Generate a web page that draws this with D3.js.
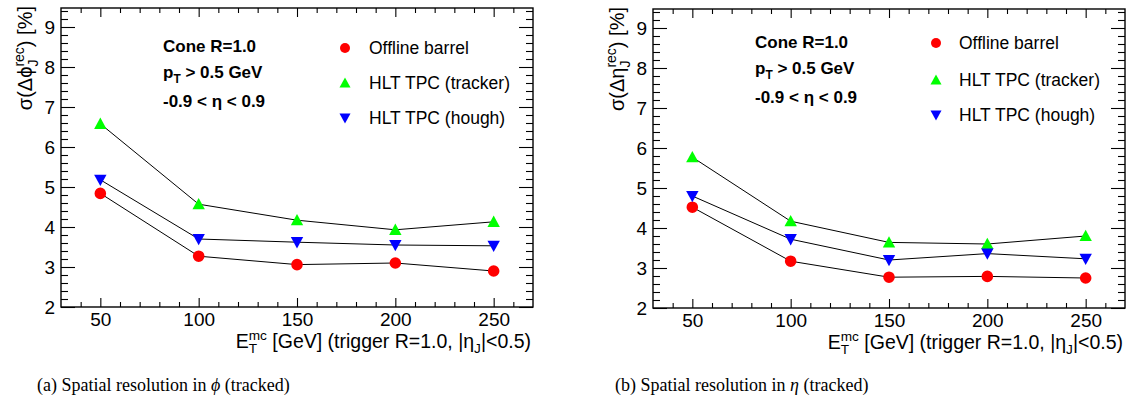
<!DOCTYPE html>
<html>
<head>
<meta charset="utf-8">
<script src="https://cdn.jsdelivr.net/npm/d3@7"></script>
<style>
  html, body { margin: 0; padding: 0; background: #fff; }
  svg { display: block; }
  text { font-family: "Liberation Sans", Arial, Helvetica, sans-serif; fill: #000; }
</style>
</head>
<body>
<svg id="chart" width="1130" height="410"></svg>
<script>
// ---------------- data ----------------
const energies = [50, 100, 150, 200, 250];
const xMajorTicks = [50, 100, 150, 200, 250];
const yMajorTicks = [2, 3, 4, 5, 6, 7, 8, 9];

const phiOffline = [4.84, 3.27, 3.06, 3.10, 2.90];
const phiTracker = [6.58, 4.57, 4.17, 3.93, 4.13];
const phiHough   = [5.18, 3.70, 3.62, 3.55, 3.53];

const etaOffline = [4.52, 3.17, 2.77, 2.79, 2.75];
const etaTracker = [5.77, 4.17, 3.64, 3.60, 3.80];
const etaHough   = [4.80, 3.72, 3.20, 3.36, 3.23];

const seriesNames = ["Offline barrel", "HLT TPC (tracker)", "HLT TPC (hough)"];
const seriesColors = ["#ff0000", "#00ff00", "#0000ff"];
const seriesMarkers = ["circle", "up", "down"];
const infoLines = ["Cone R=1.0", "pT > 0.5 GeV", "-0.9 < η < 0.9"];
const captions = ["(a) Spatial resolution in ", "(b) Spatial resolution in "];
const captionSymbols = ["ϕ", "η"];

// ---------------- layout ----------------
const svg = d3.select("#chart");
svg.append("rect").attr("width", 1130).attr("height", 410).attr("fill", "#fff");

const panels = [
  { x0: 61, x1: 533, yb: 307, yt: 8, series: [phiOffline, phiTracker, phiHough],
    ySym: "ϕ", infoX: 163, infoY: [52, 78, 107], legX: 345, legTX: 369, legY: [48, 83, 118],
    capX: 37 },
  { x0: 653, x1: 1125, yb: 308, yt: 9, series: [etaOffline, etaTracker, etaHough],
    ySym: "η", infoX: 755, infoY: [48, 74, 103], legX: 936, legTX: 959, legY: [43, 80, 115],
    capX: 615 }
];

function markerPath(type, r) {
  if (type === "up") return `M0,${-r} L${r},${r * 0.82} L${-r},${r * 0.82} Z`;
  if (type === "down") return `M0,${r} L${r},${-r * 0.82} L${-r},${-r * 0.82} Z`;
  return d3.symbol(d3.symbolCircle, Math.PI * r * r)();
}

// rich text: segments {t} plain, {sub, sup} stacked, {sub} only
function rich(textSel, segs, fs) {
  const s = fs * 0.7;
  let pend = 0, pdx = 0;
  segs.forEach(seg => {
    if (seg.t != null) {
      const ts = textSel.append("tspan").text(seg.t);
      if (pend) ts.attr("dy", pend);
      if (pdx) ts.attr("dx", pdx);
      pend = 0; pdx = 0;
    } else if (seg.sup != null) {
      const up = textSel.append("tspan").attr("font-size", s).attr("dy", -fs * 0.42 + pend).text(seg.sup);
      if (pdx) up.attr("dx", pdx);
      const wUp = up.node().getComputedTextLength();
      const dn = textSel.append("tspan").attr("font-size", s).attr("dx", -wUp).attr("dy", fs * 0.42 + fs * 0.28).text(seg.sub);
      const wDn = dn.node().getComputedTextLength();
      pend = -fs * 0.28; pdx = Math.max(0, wUp - wDn);
    } else {
      const dn = textSel.append("tspan").attr("font-size", s).attr("dy", fs * 0.28 + pend).text(seg.sub);
      if (pdx) dn.attr("dx", pdx);
      pend = -fs * 0.28; pdx = 0;
    }
  });
}

panels.forEach((p, pi) => {
  const x = d3.scaleLinear().domain([30, 270]).range([p.x0, p.x1]);
  const y = d3.scaleLinear().domain([2, 9]).range([p.yb, p.yb - 280]);
  const yTopVal = y.invert(p.yt);
  const g = svg.append("g");

  const xMinor = d3.range(40, 270, 10).filter(v => v % 50 !== 0);
  const yMinor = d3.range(2.2, yTopVal, 0.2).map(v => +v.toFixed(1)).filter(v => Math.abs(v - Math.round(v)) > 1e-6);

  const axStyle = sel => {
    sel.select(".domain").remove();
    sel.selectAll("line").attr("stroke", "#000").attr("stroke-width", 1.1);
    sel.selectAll("text").attr("font-size", 19).attr("font-family", '"Liberation Sans", Arial, sans-serif');
  };

  // bottom
  g.append("g").attr("transform", `translate(0,${p.yb})`)
    .call(d3.axisBottom(x).tickValues(xMajorTicks).tickSize(-9).tickPadding(6).tickFormat(d3.format("d"))).call(axStyle);
  g.append("g").attr("transform", `translate(0,${p.yb})`)
    .call(d3.axisBottom(x).tickValues(xMinor).tickSize(-5).tickFormat("")).call(axStyle);
  // top
  g.append("g").attr("transform", `translate(0,${p.yt})`)
    .call(d3.axisTop(x).tickValues(xMajorTicks).tickSize(-9).tickFormat("")).call(axStyle);
  g.append("g").attr("transform", `translate(0,${p.yt})`)
    .call(d3.axisTop(x).tickValues(xMinor).tickSize(-5).tickFormat("")).call(axStyle);
  // left
  g.append("g").attr("transform", `translate(${p.x0},0)`)
    .call(d3.axisLeft(y).tickValues(yMajorTicks).tickSize(-14).tickPadding(6).tickFormat(d3.format("d"))).call(axStyle);
  g.append("g").attr("transform", `translate(${p.x0},0)`)
    .call(d3.axisLeft(y).tickValues(yMinor).tickSize(-7).tickFormat("")).call(axStyle);
  // right
  g.append("g").attr("transform", `translate(${p.x1},0)`)
    .call(d3.axisRight(y).tickValues(yMajorTicks).tickSize(-14).tickFormat("")).call(axStyle);
  g.append("g").attr("transform", `translate(${p.x1},0)`)
    .call(d3.axisRight(y).tickValues(yMinor).tickSize(-7).tickFormat("")).call(axStyle);

  // frame
  g.append("rect").attr("x", p.x0).attr("y", p.yt).attr("width", p.x1 - p.x0).attr("height", p.yb - p.yt)
    .attr("fill", "none").attr("stroke", "#000").attr("stroke-width", 1.4);

  // series lines and markers
  const line = d3.line().x((d, i) => x(energies[i])).y(d => y(d));
  p.series.forEach((vals) => {
    g.append("path").attr("d", line(vals)).attr("fill", "none").attr("stroke", "#000").attr("stroke-width", 1);
  });
  p.series.forEach((vals, si) => {
    g.selectAll(null).data(vals).enter().append("path")
      .attr("transform", (d, i) => `translate(${x(energies[i])},${y(d)})`)
      .attr("d", markerPath(seriesMarkers[si], si === 0 ? 5.8 : 6.2))
      .attr("fill", seriesColors[si]);
  });

  // info text
  g.append("text").attr("x", p.infoX).attr("y", p.infoY[0]).attr("font-size", 17).attr("font-weight", "bold").text(infoLines[0]);
  const t1 = g.append("text").attr("x", p.infoX).attr("y", p.infoY[1]).attr("font-size", 17).attr("font-weight", "bold");
  rich(t1, [{ t: "p" }, { sub: "T" }, { t: " > 0.5 GeV" }], 17);
  g.append("text").attr("x", p.infoX).attr("y", p.infoY[2]).attr("font-size", 17).attr("font-weight", "bold").text(infoLines[2]);

  // legend
  seriesNames.forEach((nm, si) => {
    g.append("path").attr("transform", `translate(${p.legX},${p.legY[si]})`)
      .attr("d", markerPath(seriesMarkers[si], si === 0 ? 5 : 5.5)).attr("fill", seriesColors[si]);
    g.append("text").attr("x", p.legTX).attr("y", p.legY[si] + 6).attr("font-size", 17.5).text(nm);
  });

  // x title (right aligned)
  const xt = g.append("text").attr("font-size", 19.5);
  rich(xt, [{ t: "E" }, { sub: "T", sup: "mc" }, { t: " [GeV] (trigger R=1.0, |η" }, { sub: "J" }, { t: "|<0.5)" }], 19.5);
  const bb = xt.node().getBBox();
  xt.attr("transform", `translate(${p.x1 - 2 - (bb.x + bb.width)},${p.yb + 41})`);

  // y title (rotated, aligned to top)
  const yg = g.append("g").attr("transform", `translate(${p.x0 - 29},${p.yt - 2}) rotate(-90)`);
  const yt = yg.append("text").attr("font-size", 20);
  rich(yt, [{ t: "σ(Δ" + p.ySym }, { sub: "J", sup: "rec" }, { t: ") [%]" }], 20);
  const bb2 = yt.node().getBBox();
  yt.attr("transform", `translate(${-(bb2.x + bb2.width)},0)`);

  // caption
  const cap = svg.append("text").attr("x", p.capX).attr("y", 391).attr("font-size", 18)
    .style("font-family", '"Liberation Serif", "Times New Roman", serif');
  cap.append("tspan").text(captions[pi]);
  cap.append("tspan").attr("font-style", "italic").text(captionSymbols[pi]);
  cap.append("tspan").text(" (tracked)");
});
</script>
</body>
</html>
